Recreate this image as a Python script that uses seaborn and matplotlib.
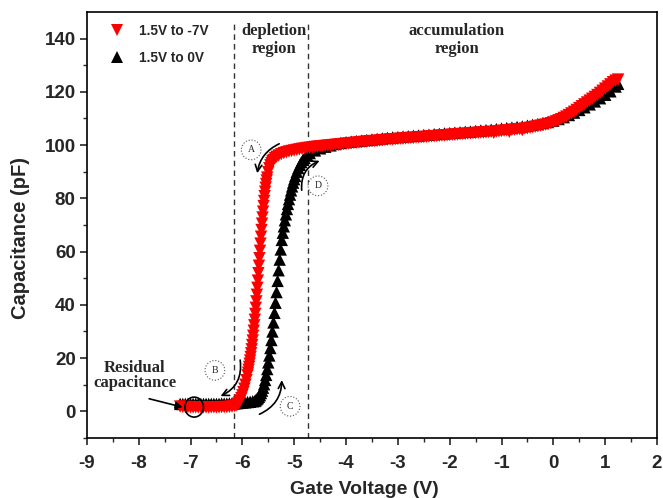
import numpy as np
import pandas as pd
import seaborn as sns
import matplotlib.pyplot as plt
from matplotlib.patches import Ellipse

# Sweep 1.5 V -> -7 V (red, downward triangles)
red_v = [-7.20, -7.15, -7.10, -7.05, -7.00, -6.95, -6.90, -6.85, -6.80, -6.75, -6.70,
         -6.65, -6.60, -6.55, -6.50, -6.45, -6.40, -6.35, -6.30, -6.25, -6.20, -6.15,
         -6.12, -6.10, -6.08, -6.06, -6.04, -6.02, -6.00, -5.98, -5.96, -5.94, -5.92,
         -5.90, -5.89, -5.88, -5.87, -5.86, -5.85, -5.84, -5.83, -5.82, -5.81, -5.80,
         -5.79, -5.78, -5.77, -5.76, -5.75, -5.74, -5.73, -5.72, -5.71, -5.70, -5.69,
         -5.68, -5.67, -5.66, -5.65, -5.64, -5.63, -5.62, -5.61, -5.60, -5.59, -5.58,
         -5.57, -5.56, -5.55, -5.54, -5.53, -5.52, -5.50, -5.48, -5.46, -5.44, -5.42,
         -5.40, -5.37, -5.34, -5.30,
         -5.25, -5.20, -5.15, -5.10, -5.05, -5.00, -4.95, -4.90, -4.85, -4.80, -4.75,
         -4.70, -4.65, -4.60, -4.55, -4.50, -4.45, -4.40, -4.35, -4.30, -4.25, -4.20,
         -4.15, -4.10, -4.05, -4.00, -3.95, -3.90, -3.85, -3.80, -3.75, -3.70, -3.65,
         -3.60, -3.55, -3.50, -3.45, -3.40, -3.35, -3.30, -3.25, -3.20, -3.15, -3.10,
         -3.05, -3.00, -2.95, -2.90, -2.85, -2.80, -2.75, -2.70, -2.65, -2.60, -2.55,
         -2.50, -2.45, -2.40, -2.35, -2.30, -2.25, -2.20, -2.15, -2.10, -2.05, -2.00,
         -1.95, -1.90, -1.85, -1.80, -1.75, -1.70, -1.65, -1.60, -1.55, -1.50, -1.45,
         -1.40, -1.35, -1.30, -1.25, -1.20, -1.15, -1.10, -1.05, -1.00, -0.95, -0.90,
         -0.85, -0.80, -0.75, -0.70, -0.65, -0.60, -0.55, -0.50, -0.45, -0.40, -0.35,
         -0.30, -0.25, -0.20, -0.15, -0.10, -0.05, 0.00, 0.05, 0.10, 0.15, 0.20,
         0.25, 0.30, 0.35, 0.40, 0.45, 0.50, 0.55, 0.60, 0.65, 0.70, 0.75,
         0.80, 0.85, 0.90, 0.95, 1.00, 1.05, 1.10, 1.15, 1.20, 1.25]
red_c = [1.8, 1.7, 1.6, 1.6, 1.5, 1.5, 1.5, 1.5, 1.5, 1.5, 1.5,
         1.5, 1.5, 1.5, 1.5, 1.5, 1.6, 1.6, 1.6, 1.7, 1.8, 2.0,
         2.2, 2.5, 2.9, 3.4, 4.1, 5.0, 6.0, 7.2, 8.5, 10.0, 11.7,
         13.5, 14.5, 15.6, 16.7, 17.9, 19.1, 20.4, 21.8, 23.3, 24.9, 26.6,
         28.4, 30.3, 32.3, 34.4, 36.6, 38.9, 41.3, 43.8, 46.4, 49.1, 51.9,
         54.7, 57.5, 60.3, 63.0, 65.6, 68.1, 70.5, 72.8, 75.0, 77.1, 79.0,
         80.8, 82.5, 84.0, 85.4, 86.7, 87.8, 89.8, 91.3, 92.4, 93.2, 93.9,
         94.4, 95.1, 95.6, 96.1,
         96.6, 97.0, 97.3, 97.6, 97.8, 98.0, 98.2, 98.4, 98.6, 98.7, 98.9,
         99.0, 99.1, 99.3, 99.4, 99.5, 99.6, 99.7, 99.8, 99.9, 100.0, 100.1,
         100.2, 100.3, 100.4, 100.5, 100.6, 100.7, 100.8, 100.9, 101.0, 101.1, 101.2,
         101.3, 101.4, 101.5, 101.5, 101.6, 101.7, 101.8, 101.9, 102.0, 102.1, 102.1,
         102.2, 102.3, 102.4, 102.4, 102.5, 102.6, 102.7, 102.7, 102.8, 102.9, 103.0,
         103.0, 103.1, 103.2, 103.3, 103.3, 103.4, 103.5, 103.6, 103.6, 103.7, 103.8,
         103.9, 103.9, 104.0, 104.1, 104.2, 104.2, 104.3, 104.4, 104.5, 104.5, 104.6,
         104.7, 104.7, 104.8, 104.9, 105.0, 104.6, 105.1, 105.2, 105.3, 105.4, 105.5,
         105.0, 105.7, 105.8, 105.9, 106.0, 105.6, 106.2, 106.3, 106.5, 106.7, 106.9,
         107.1, 107.3, 107.5, 107.7, 107.9, 108.2, 108.5, 108.9, 109.3, 109.7, 110.2,
         110.7, 111.3, 111.9, 112.5, 113.2, 113.9, 114.6, 115.3, 116.0, 116.7, 117.4,
         118.1, 118.8, 119.6, 120.4, 121.2, 122.0, 122.8, 123.6, 124.2, 124.6]

# Sweep 1.5 V -> 0 V (black, upward triangles)
black_v = [-7.20, -7.15, -7.10, -7.05, -7.00, -6.95, -6.90, -6.85, -6.80, -6.75, -6.70,
           -6.65, -6.60, -6.55, -6.50, -6.45, -6.40, -6.35, -6.30, -6.25, -6.20, -6.15,
           -6.10, -6.05, -6.00, -5.95, -5.90, -5.85, -5.80,
           -5.76, -5.74, -5.72, -5.70, -5.68, -5.66, -5.64, -5.62, -5.60, -5.58, -5.56,
           -5.54, -5.52, -5.50, -5.48, -5.46, -5.44, -5.42, -5.40, -5.38, -5.36, -5.34,
           -5.32, -5.30, -5.28, -5.26, -5.24, -5.22, -5.20, -5.18, -5.16, -5.14, -5.12,
           -5.10, -5.08, -5.06, -5.04, -5.02, -5.00, -4.98, -4.95, -4.92, -4.89, -4.86,
           -4.83, -4.80, -4.75, -4.70, -4.60, -4.50, -4.40, -4.30,
           -4.20, -4.10, -4.00, -3.90, -3.80, -3.70, -3.60, -3.50, -3.40, -3.30, -3.20,
           -3.10, -3.00, -2.90, -2.80, -2.70, -2.60, -2.50, -2.40, -2.30, -2.20, -2.10,
           -2.00, -1.90, -1.80, -1.70, -1.60, -1.50, -1.40, -1.30, -1.20, -1.10, -1.00,
           -0.90, -0.80, -0.70, -0.60, -0.50, -0.40, -0.30, -0.20, -0.10, 0.00, 0.10,
           0.20, 0.30, 0.40, 0.50, 0.60, 0.70, 0.80, 0.90, 1.00, 1.10, 1.20, 1.25]
black_c = [2.8, 2.8, 2.8, 2.8, 2.8, 2.8, 2.8, 2.8, 2.8, 2.8, 2.8,
           2.8, 2.8, 2.8, 2.8, 2.8, 2.9, 2.9, 2.9, 3.0, 3.0, 3.0,
           3.1, 3.2, 3.3, 3.4, 3.5, 3.6, 3.8,
           3.9, 4.2, 4.6, 5.0, 5.5, 6.1, 6.9, 7.8, 8.9, 10.2, 11.8,
           13.7, 15.9, 18.4, 21.0, 23.8, 26.8, 30.0, 33.4, 37.0, 40.8, 44.8,
           49.0, 53.0, 57.0, 60.8, 64.4, 67.1, 69.5, 71.8, 74.0, 76.0, 77.9,
           79.7, 81.4, 83.0, 84.5, 85.9, 87.2, 88.4, 90.0, 91.4, 92.6, 93.6,
           94.5, 95.2, 96.2, 97.0, 98.0, 98.8, 99.4, 99.9,
           100.4, 100.8, 101.1, 101.3, 101.5, 101.7, 101.9, 102.1, 102.3, 102.5, 102.7,
           102.9, 103.0, 103.2, 103.3, 103.5, 103.6, 103.8, 103.9, 104.1, 104.2, 104.4,
           104.5, 104.7, 104.8, 105.0, 105.1, 105.3, 105.5, 105.6, 105.8, 106.0, 106.2,
           106.4, 106.6, 106.8, 107.0, 107.3, 107.6, 107.9, 108.3, 108.7, 109.2, 109.8,
           110.5, 111.3, 112.2, 113.2, 114.2, 115.3, 116.4, 117.6, 118.9, 120.2, 122.0, 123.0]

label_red = "1.5V to -7V"
label_black = "1.5V to 0V"

df = pd.concat([
    pd.DataFrame({"v": black_v, "c": black_c, "sweep": label_black}),
    pd.DataFrame({"v": red_v, "c": red_c, "sweep": label_red}),
], ignore_index=True)

sns.set_style("ticks")
plt.rcParams["font.family"] = ["Liberation Sans", "DejaVu Sans"]
plt.rcParams["axes.unicode_minus"] = False

fig = plt.figure(figsize=(6.63, 4.98), dpi=100)
ax = fig.add_axes([0.131, 0.1205, 0.86, 0.8555])

sns.scatterplot(data=df, x="v", y="c", hue="sweep", style="sweep",
                hue_order=[label_red, label_black],
                palette={label_red: "#ff0000", label_black: "#000000"},
                markers={label_red: "v", label_black: "^"},
                s=80, linewidth=0, ax=ax, zorder=3)

ax.set_xlim(-9, 2)
ax.set_ylim(-10, 150)
ax.set_xticks(np.arange(-9, 3, 1))
ax.set_xticks(np.arange(-8.5, 2, 1), minor=True)
ax.set_yticks(np.arange(0, 141, 20))
ax.set_yticks(np.arange(-10, 150, 20), minor=True)
ax.tick_params(axis="both", which="major", direction="out", length=5, width=1.2,
               labelsize=13.5, top=False, right=False)
ax.tick_params(axis="x", which="major", pad=7)
ax.tick_params(axis="y", which="major", pad=3)
ax.tick_params(axis="both", which="minor", direction="out", length=3, width=1.0,
               top=False, right=False)
for lab in ax.get_xticklabels() + ax.get_yticklabels():
    lab.set_fontweight("bold")
for sp in ax.spines.values():
    sp.set_visible(True)
    sp.set_linewidth(1.2)
    sp.set_color("black")

ax.set_xlabel("Gate Voltage (V)", fontsize=14, fontweight="bold")
ax.set_ylabel("Capacitance (pF)", fontsize=14.5, fontweight="bold")
ax.xaxis.set_label_coords(0.486, -0.1)
ax.yaxis.set_label_coords(-0.099, 0.47)

# Region boundaries
for xv in (-6.16, -4.74):
    ax.plot([xv, xv], [-10, 145.5], ls=(0, (4, 3)), color="#333333", lw=1.0, zorder=2)

serif = ["Liberation Serif", "DejaVu Serif"]
ax.text(-5.39, 146.0, "depletion\nregion", ha="center", va="top", fontsize=12,
        fontweight="bold", family=serif, linespacing=1.2)
ax.text(-1.86, 146.0, "accumulation\nregion", ha="center", va="top", fontsize=12,
        fontweight="bold", family=serif, linespacing=1.2)
ax.text(-8.07, 13.5, "Residual\ncapacitance", ha="center", va="center", fontsize=12,
        fontweight="bold", family=serif, linespacing=0.95)
ax.annotate("", xy=(-7.1, 1.3), xytext=(-7.85, 5.0),
            arrowprops=dict(arrowstyle="-|>", color="black", lw=1.2,
                            mutation_scale=10), zorder=5)
ax.add_patch(Ellipse((-6.93, 1.6), 0.36, 7.5, fill=False, ec="black", lw=1.2, zorder=5))

# Sweep direction arrows
arrow_kw = dict(arrowstyle="->", color="black", lw=1.2, mutation_scale=12)
ax.annotate("", xy=(-5.72, 88.4), xytext=(-5.24, 100.9),
            arrowprops=dict(connectionstyle="arc3,rad=0.3", **arrow_kw), zorder=5)
ax.annotate("", xy=(-6.47, 5.3), xytext=(-6.05, 20.3),
            arrowprops=dict(connectionstyle="arc3,rad=-0.4", **arrow_kw), zorder=5)
ax.annotate("", xy=(-5.24, 12.8), xytext=(-5.72, -1.5),
            arrowprops=dict(connectionstyle="arc3,rad=0.35", **arrow_kw), zorder=5)
ax.annotate("", xy=(-4.46, 94.5), xytext=(-4.85, 82.0),
            arrowprops=dict(connectionstyle="arc3,rad=-0.4", **arrow_kw), zorder=5)

circle_box = dict(boxstyle="circle,pad=0.55", fc="white", ec="#555555", lw=0.8, ls=":")
for letter, (xv, yv) in {"A": (-5.83, 98.2), "B": (-6.53, 15.4),
                         "C": (-5.08, 1.9), "D": (-4.54, 84.7)}.items():
    ax.text(xv, yv, letter, ha="center", va="center", fontsize=7, family=serif,
            bbox=circle_box, zorder=6)

leg = ax.legend(loc="upper left", bbox_to_anchor=(0.012, 0.995), frameon=False,
                fontsize=9.8, handletextpad=0.6, borderaxespad=0.3,
                labelspacing=0.95, markerscale=1.0)
for t in leg.get_texts():
    t.set_fontweight("bold")

fig.savefig("out.png", dpi=100)
